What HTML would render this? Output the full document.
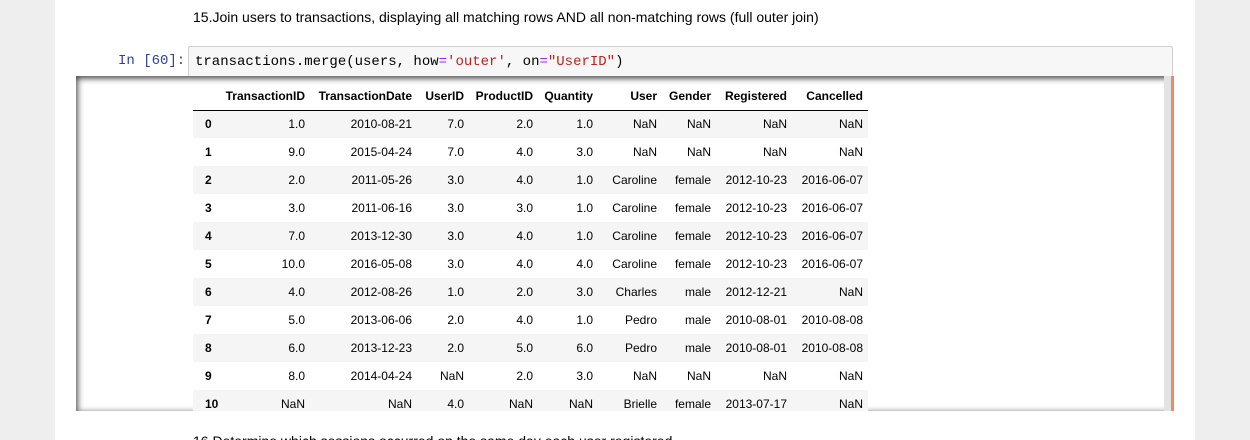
<!DOCTYPE html>
<html><head><meta charset="utf-8"><style>
html,body{margin:0;width:1250px;height:440px;overflow:hidden}
body{background:#eeeeee;font-family:"Liberation Sans",sans-serif;position:relative}
#nb{position:absolute;left:55px;top:0;width:1140px;height:440px;background:#fff}
.md{position:absolute;left:193px;font-size:14px;color:#000}
.prompt{position:absolute;font-family:"Liberation Mono",monospace;font-size:14px}
#inbox{position:absolute;left:188px;top:46px;width:983px;height:29px;background:#f7f7f7;border:1px solid #cfcfcf;border-radius:2px}
#code{position:absolute;left:6px;top:7px;font-family:"Liberation Mono",monospace;font-size:14px;color:#000;white-space:pre}
#out{position:absolute;left:76px;top:76px;width:1098px;height:335px;overflow:hidden;background:#fff;box-shadow:inset 0 3px 6px rgba(0,0,0,.55),inset 3px 0 6px rgba(0,0,0,.35)}
#sb{position:absolute;right:3px;top:0;width:7px;height:335px;background:#e3e3e3}
#ob{position:absolute;right:0;top:0;width:3px;height:335px;background:#ef8a62}
table{position:absolute;left:117px;top:7px;width:675px;border-collapse:collapse;font-size:12px;table-layout:fixed}
th,td{box-sizing:border-box;padding:0 5px;text-align:right;height:28px;white-space:nowrap;overflow:visible}
thead th{height:27px;border-bottom:1px solid #000;vertical-align:middle}
tbody th{text-align:left;padding-left:12px}
tbody tr:nth-child(odd){background:#f5f5f5}
</style></head><body>
<div id="nb"></div>
<div class="md" style="top:9px">15.Join users to transactions, displaying all matching rows AND all non-matching rows (full outer join)</div>
<div class="prompt" style="left:118px;top:53px;color:#303f9f">In [60]:</div>
<div id="inbox"><div id="code">transactions.merge(users, how<span style="color:#a2f">=</span><span style="color:#b22">'outer'</span>, on<span style="color:#a2f">=</span><span style="color:#b22">"UserID"</span>)</div></div>
<div class="prompt" style="left:118px;top:82px;color:#d84315">Out[60]:</div>
<div id="out">
<table>
<colgroup><col style="width:25px"><col style="width:92px"><col style="width:107px"><col style="width:52px"><col style="width:69px"><col style="width:60px"><col style="width:64px"><col style="width:54px"><col style="width:76px"><col style="width:76px"></colgroup>
<thead><tr><th></th><th>TransactionID</th><th>TransactionDate</th><th>UserID</th><th>ProductID</th><th>Quantity</th><th>User</th><th>Gender</th><th>Registered</th><th>Cancelled</th></tr></thead>
<tbody>
<tr><th>0</th><td>1.0</td><td>2010-08-21</td><td>7.0</td><td>2.0</td><td>1.0</td><td>NaN</td><td>NaN</td><td>NaN</td><td>NaN</td></tr>
<tr><th>1</th><td>9.0</td><td>2015-04-24</td><td>7.0</td><td>4.0</td><td>3.0</td><td>NaN</td><td>NaN</td><td>NaN</td><td>NaN</td></tr>
<tr><th>2</th><td>2.0</td><td>2011-05-26</td><td>3.0</td><td>4.0</td><td>1.0</td><td>Caroline</td><td>female</td><td>2012-10-23</td><td>2016-06-07</td></tr>
<tr><th>3</th><td>3.0</td><td>2011-06-16</td><td>3.0</td><td>3.0</td><td>1.0</td><td>Caroline</td><td>female</td><td>2012-10-23</td><td>2016-06-07</td></tr>
<tr><th>4</th><td>7.0</td><td>2013-12-30</td><td>3.0</td><td>4.0</td><td>1.0</td><td>Caroline</td><td>female</td><td>2012-10-23</td><td>2016-06-07</td></tr>
<tr><th>5</th><td>10.0</td><td>2016-05-08</td><td>3.0</td><td>4.0</td><td>4.0</td><td>Caroline</td><td>female</td><td>2012-10-23</td><td>2016-06-07</td></tr>
<tr><th>6</th><td>4.0</td><td>2012-08-26</td><td>1.0</td><td>2.0</td><td>3.0</td><td>Charles</td><td>male</td><td>2012-12-21</td><td>NaN</td></tr>
<tr><th>7</th><td>5.0</td><td>2013-06-06</td><td>2.0</td><td>4.0</td><td>1.0</td><td>Pedro</td><td>male</td><td>2010-08-01</td><td>2010-08-08</td></tr>
<tr><th>8</th><td>6.0</td><td>2013-12-23</td><td>2.0</td><td>5.0</td><td>6.0</td><td>Pedro</td><td>male</td><td>2010-08-01</td><td>2010-08-08</td></tr>
<tr><th>9</th><td>8.0</td><td>2014-04-24</td><td>NaN</td><td>2.0</td><td>3.0</td><td>NaN</td><td>NaN</td><td>NaN</td><td>NaN</td></tr>
<tr><th>10</th><td>NaN</td><td>NaN</td><td>4.0</td><td>NaN</td><td>NaN</td><td>Brielle</td><td>female</td><td>2013-07-17</td><td>NaN</td></tr>
</tbody></table>
<div id="sb"></div>
<div id="ob"></div>
</div>
<div class="md" style="top:433px">16.Determine which sessions occurred on the same day each user registered</div>
</body></html>
